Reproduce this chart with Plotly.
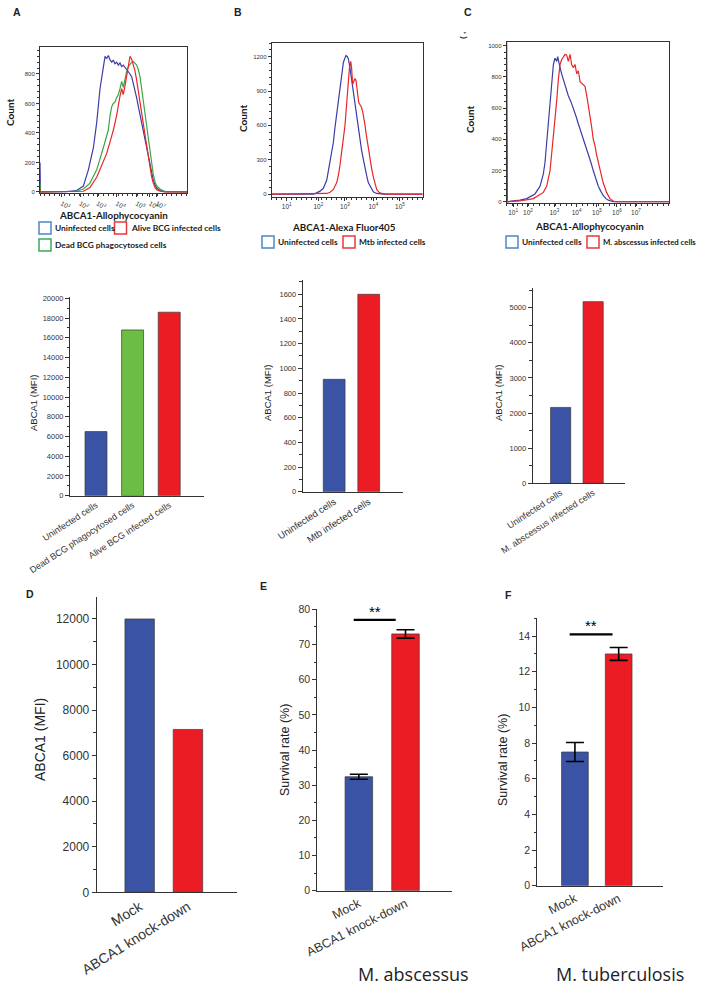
import plotly.graph_objects as go

W, H = 708, 1002

# ---------------- Data ----------------
# Histograms (x = fluorescence channel 0-1024, y = count)
A_blue_x = [0, 3, 186, 255, 302, 337, 372, 395, 418, 441, 453, 465, 476, 488, 500, 511, 522, 534, 546, 557, 569, 580, 592, 604, 615, 627, 639, 650, 662, 673, 685, 697, 708, 720, 731, 743, 755, 766, 778, 789, 801, 813, 836, 870, 1024]
A_blue_y = [200, 0, 2, 10, 40, 150, 300, 470, 700, 860, 920, 905, 925, 895, 880, 895, 870, 880, 860, 875, 850, 860, 845, 835, 820, 800, 780, 740, 690, 640, 580, 520, 470, 420, 370, 300, 240, 180, 120, 80, 50, 25, 10, 2, 0]
A_green_x = [0, 3, 255, 302, 348, 395, 441, 464, 476, 488, 500, 511, 523, 534, 546, 557, 569, 580, 592, 604, 615, 627, 639, 650, 662, 673, 685, 697, 708, 720, 731, 743, 755, 766, 778, 789, 801, 813, 836, 870, 1024]
A_green_y = [60, 0, 5, 20, 60, 150, 300, 390, 420, 520, 580, 600, 610, 640, 660, 700, 750, 710, 780, 820, 850, 870, 880, 885, 870, 860, 830, 780, 700, 610, 520, 430, 340, 260, 180, 120, 70, 40, 20, 3, 0]
A_red_x = [0, 3, 302, 348, 395, 441, 464, 488, 511, 534, 546, 557, 569, 580, 592, 604, 615, 627, 639, 650, 662, 673, 685, 697, 708, 720, 731, 743, 755, 766, 778, 789, 801, 813, 836, 870, 1024]
A_red_y = [20, 0, 5, 30, 100, 200, 260, 340, 420, 520, 600, 650, 700, 660, 720, 800, 860, 920, 900, 860, 820, 760, 690, 620, 540, 460, 390, 310, 230, 160, 100, 60, 30, 15, 5, 0, 0]

B_blue_x = [0, 283, 305, 328, 350, 373, 384, 407, 418, 429, 441, 452, 463, 475, 486, 497, 504, 513, 520, 531, 542, 554, 565, 576, 588, 599, 610, 622, 633, 644, 655, 667, 678, 689, 712, 757, 1024]
B_blue_y = [0, 0, 10, 25, 50, 120, 200, 380, 450, 580, 700, 830, 950, 1050, 1150, 1190, 1210, 1200, 1180, 1100, 1000, 880, 750, 650, 550, 470, 380, 300, 220, 160, 100, 70, 40, 20, 5, 0, 0]
B_red_x = [0, 373, 396, 418, 441, 452, 463, 475, 486, 497, 509, 520, 527, 536, 542, 549, 556, 565, 572, 581, 590, 599, 608, 617, 626, 633, 640, 649, 658, 667, 678, 689, 701, 712, 728, 746, 780, 1024]
B_red_y = [0, 5, 15, 40, 100, 160, 250, 380, 480, 600, 800, 1000, 1100, 1160, 1100, 960, 980, 1010, 990, 900, 800, 780, 760, 720, 660, 600, 530, 450, 380, 300, 220, 150, 90, 40, 15, 5, 0, 0]

C_blue_x = [0, 4, 42, 84, 126, 147, 178, 210, 231, 241, 252, 262, 273, 283, 294, 304, 315, 321, 329, 336, 346, 357, 373, 388, 405, 420, 436, 451, 468, 483, 499, 514, 531, 545, 562, 577, 594, 608, 625, 640, 671, 1024]
C_blue_y = [1020, 0, 5, 10, 20, 30, 50, 100, 180, 250, 380, 500, 650, 800, 880, 920, 900, 930, 880, 860, 820, 780, 730, 680, 640, 600, 550, 500, 450, 400, 350, 300, 250, 200, 150, 100, 65, 40, 20, 10, 0, 0]
C_red_x = [0, 4, 84, 168, 231, 252, 273, 283, 294, 304, 315, 325, 336, 346, 357, 367, 378, 388, 399, 409, 420, 430, 441, 451, 462, 472, 483, 493, 504, 514, 525, 535, 545, 556, 566, 577, 587, 598, 608, 619, 629, 650, 671, 692, 1024]
C_red_y = [420, 0, 5, 20, 60, 100, 200, 300, 400, 520, 650, 780, 880, 910, 930, 945, 940, 900, 945, 880, 860, 880, 820, 840, 770, 760, 750, 740, 680, 620, 550, 480, 400, 360, 300, 250, 200, 160, 120, 90, 60, 20, 5, 0, 0]

A_ticks = [151, 279, 399, 534, 673, 766, 813]
B_ticks = [102, 316, 497, 689, 870]
C_ticks = [40, 134, 300, 440, 568, 694, 814]
dec_labels = ["10<sup>1</sup>", "10<sup>2</sup>", "10<sup>3</sup>", "10<sup>4</sup>", "10<sup>5</sup>", "10<sup>6</sup>", "10<sup>7</sup>"]

# Bar charts
barA_cats = ["Uninfected cells", "Dead BCG phagocytosed cells", "Alive BCG infected cells"]
barA_vals = [6500, 16800, 18600]
barB_cats = ["Uninfected cells", "Mtb infected cells"]
barB_vals = [911, 1600]
barC_cats = ["Uninfected cells", "M. abscessus infected cells"]
barC_vals = [2160, 5170]
kd_cats = ["Mock", "ABCA1 knock-down"]
D_vals = [12000, 7150]
E_vals = [32.4, 73.0]
E_err = [0.7, 1.2]
F_vals = [7.5, 13.0]
F_err = [0.53, 0.36]

BLUE = "#3a53a4"
GREEN = "#6cbd45"
RED = "#ec1c24"
HBLUE = "#3c3ca8"
HRED = "#e8262a"
HGREEN = "#37a842"
LBLUE = "#4a88c8"
LRED = "#e8383a"
LGREEN = "#3dab55"
AX = "#333333"

def dx(l, r):
    return [l / W, r / W]

def dy(t, b):
    return [1 - b / H, 1 - t / H]

def px(x):
    return x / W

def py(y):
    return 1 - y / H

fig = go.Figure()

def hline(x, y, color, ax):
    fig.add_trace(go.Scatter(x=x, y=y, mode="lines", line=dict(color=color, width=1.2),
                             xaxis="x" + ax, yaxis="y" + ax, showlegend=False, hoverinfo="skip"))

hline(A_blue_x, A_blue_y, HBLUE, "")
hline(A_green_x, A_green_y, HGREEN, "")
hline(A_red_x, A_red_y, HRED, "")
hline(B_blue_x, B_blue_y, HBLUE, "2")
hline(B_red_x, B_red_y, HRED, "2")
hline(C_blue_x, C_blue_y, HBLUE, "3")
hline(C_red_x, C_red_y, HRED, "3")

def bars(vals, colors, ax, width, err=None):
    kw = {}
    if err is not None:
        kw["error_y"] = dict(type="data", array=err, color="black", thickness=1.6, width=9)
    fig.add_trace(go.Bar(x=list(range(len(vals))), y=vals, width=width,
                         marker=dict(color=colors, line=dict(color="#3a3a3a", width=0.7)),
                         xaxis="x" + ax, yaxis="y" + ax, showlegend=False, **kw))

bars(barA_vals, [BLUE, GREEN, RED], "4", 0.6)
bars(barB_vals, [BLUE, RED], "5", 0.63)
bars(barC_vals, [BLUE, RED], "6", 0.62)
bars(D_vals, [BLUE, RED], "7", 0.61)
bars(E_vals, [BLUE, RED], "8", 0.59, E_err)
bars(F_vals, [BLUE, RED], "9", 0.61, F_err)

FAM = "Liberation Sans, Arial"

def hist_axes(xd, yd, yr, ydt, yminor, xt, xtt):
    xa = dict(domain=xd, range=[0, 1024], showline=True, mirror=True, linecolor=AX, linewidth=1,
              ticks="outside", ticklen=3, tickcolor=AX, tickvals=xt, ticktext=xtt,
              tickfont=dict(family=FAM, size=6.5, color=AX),
              minor=dict(ticks="outside", ticklen=2, dtick=34, tickcolor=AX),
              showgrid=False, zeroline=False, fixedrange=True, automargin=False)
    ya = dict(domain=yd, range=yr, showline=True, mirror=True, linecolor=AX, linewidth=1,
              ticks="outside", ticklen=3, tickcolor=AX, dtick=ydt, tick0=0, tickformat="d",
              tickfont=dict(family=FAM, size=6, color=AX),
              minor=dict(ticks="outside", ticklen=2, dtick=yminor, tickcolor=AX),
              showgrid=False, zeroline=False, fixedrange=True, automargin=False)
    return xa, ya

def bar_axes(xd, yd, xr, yr, ydt, yminor, cats, tfs, xfs, angle):
    xa = dict(domain=xd, range=xr, showline=True, linecolor=AX, linewidth=1, ticks="",
              tickvals=list(range(len(cats))), ticktext=cats, tickangle=angle,
              tickfont=dict(family=FAM, size=xfs, color=AX),
              showgrid=False, zeroline=False, fixedrange=True, automargin=False)
    ya = dict(domain=yd, range=yr, showline=True, linecolor=AX, linewidth=1,
              ticks="outside", ticklen=4, tickcolor=AX, dtick=ydt, tick0=0, tickformat="d",
              tickfont=dict(family=FAM, size=tfs, color=AX),
              minor=dict(ticks="outside", ticklen=2.5, dtick=yminor, tickcolor=AX),
              showgrid=False, zeroline=False, fixedrange=True, automargin=False)
    return xa, ya

lay = {}
lay["xaxis"], lay["yaxis"] = hist_axes(dx(40, 187), dy(47, 193.3), [-9, 983], 200, 40, A_ticks, dec_labels[:7])
lay["xaxis2"], lay["yaxis2"] = hist_axes(dx(271.7, 422.7), dy(43, 197), [-26, 1320], 300, 60, B_ticks, dec_labels[:5])
lay["xaxis3"], lay["yaxis3"] = hist_axes(dx(506.7, 669.3), dy(41.7, 203), [-8, 1026], 200, 40, C_ticks, dec_labels[:7])

lay["xaxis4"], lay["yaxis4"] = bar_axes(dx(70, 204), dy(296.7, 495.7), [-0.71, 2.95], [0, 20170], 2000, 1000, barA_cats, 7.5, 9, -33)
lay["xaxis5"], lay["yaxis5"] = bar_axes(dx(302.7, 403.3), dy(280, 491.7), [-0.91, 2.0], [0, 1716], 200, 100, barB_cats, 7.5, 9.5, -33)
lay["xaxis6"], lay["yaxis6"] = bar_axes(dx(532.7, 625), dy(288.3, 483.3), [-0.86, 1.98], [0, 5550], 1000, 500, barC_cats, 7.5, 9, -33)
lay["xaxis7"], lay["yaxis7"] = bar_axes(dx(96.7, 236.7), dy(597.3, 892.3), [-0.89, 2.01], [0, 12951], 2000, 1000, kd_cats, 12, 14, -32)
lay["xaxis8"], lay["yaxis8"] = bar_axes(dx(317.3, 451.7), dy(609.3, 890.7), [-0.89, 1.99], [0, 80], 10, 5, kd_cats, 10.5, 12.5, -27)
lay["xaxis9"], lay["yaxis9"] = bar_axes(dx(537.3, 663.3), dy(618.3, 885.7), [-0.86, 2.02], [0, 15], 2, 1, kd_cats, 10.5, 12.5, -27)

for k in ["xaxis", "xaxis2", "xaxis3", "xaxis4", "xaxis5", "xaxis6", "xaxis7", "xaxis8", "xaxis9"]:
    n = k.replace("xaxis", "")
    lay[k]["anchor"] = "y" + n
    lay["y" + k[1:]]["anchor"] = "x" + n

ann = []
bold = dict(family="Lato, Liberation Sans", weight="bold", color="#1a1a1a")
arial = dict(family=FAM, color="#222222")

def text(x, y, s, size, font=arial, angle=0, xanchor="center"):
    f = dict(font)
    f["size"] = size
    ann.append(dict(x=px(x), y=py(y), xref="paper", yref="paper", text=s, showarrow=False,
                    font=f, textangle=angle, xanchor=xanchor, yanchor="middle"))

# panel letters
for (lx, ly, s) in [(17, 12, "A"), (238, 12, "B"), (468, 12, "C"), (30, 594, "D"), (263, 586, "E"), (508, 595, "F")]:
    text(lx, ly, "<b>" + s + "</b>", 10.5)

# small stray mark near panel C (present in the original figure)
text(463, 36, "<b>( ,</b>", 8, dict(family=FAM, color="#222222"), -90)

# histogram titles
text(113, 215, "ABCA1-Allophycocyanin", 9.8, bold)
text(344, 227, "ABCA1-Alexa Fluor405", 9.8, bold)
text(589, 226, "ABCA1-Allophycocyanin", 9.8, bold)
text(10, 113, "Count", 10, bold, -90)
text(243, 118, "Count", 10, bold, -90)
text(470, 120, "Count", 10, bold, -90)

# legends (outlined squares + text)
shapes = []
def legbox(x0, yc, color, label, size=8.4):
    shapes.append(dict(type="rect", xref="paper", yref="paper", x0=px(x0), x1=px(x0 + 12),
                       y0=py(yc + 6), y1=py(yc - 6), line=dict(color=color, width=1.5)))
    text(x0 + 14, yc, label, size, bold, 0, "left")

legbox(39, 228, LBLUE, "Uninfected cells")
legbox(114.5, 228, LRED, "Alive BCG infected cells")
legbox(39, 245, LGREEN, "Dead BCG phagocytosed cells")
legbox(262, 242, LBLUE, "Uninfected cells")
legbox(343, 242, LRED, "Mtb infected cells")
legbox(506, 242, LBLUE, "Uninfected cells")
legbox(587, 242, LRED, "M. abscessus infected cells", 7.8)

# bar axis titles
text(33, 403, "ABCA1 (MFI)", 9.5, arial, -90)
text(267, 393, "ABCA1 (MFI)", 9.5, arial, -90)
text(498, 393, "ABCA1 (MFI)", 9.5, arial, -90)
text(40, 740, "ABCA1 (MFI)", 14, arial, -90)
text(285, 750, "Survival rate (%)", 12.5, arial, -90)
text(503, 760, "Survival rate (%)", 12.5, arial, -90)

# bottom captions
text(413, 974, "M. abscessus", 18, dict(family="Open Sans, Liberation Sans", color="#222222"))
text(620, 974, "M. tuberculosis", 18, dict(family="Open Sans, Liberation Sans", color="#222222"))

# significance markers
shapes.append(dict(type="line", xref="x8", yref="y8", x0=-0.11, x1=0.79, y0=77, y1=77, line=dict(color="black", width=2.2)))
text(375, 611, "**", 15, dict(family=FAM, color="black"))
shapes.append(dict(type="line", xref="x9", yref="y9", x0=-0.12, x1=0.86, y0=14.1, y1=14.1, line=dict(color="black", width=2.2)))
text(591, 625, "**", 15, dict(family=FAM, color="black"))

fig.update_layout(width=W, height=H, margin=dict(l=0, r=0, t=0, b=0, autoexpand=False), paper_bgcolor="white",
                  plot_bgcolor="rgba(0,0,0,0)", showlegend=False, annotations=ann, shapes=shapes,
                  bargap=0, **lay)

fig.write_html("out.html", config={"displayModeBar": False, "staticPlot": True},
               post_script="document.body.style.margin='0';document.body.style.padding='0';document.body.style.overflow='hidden';")
